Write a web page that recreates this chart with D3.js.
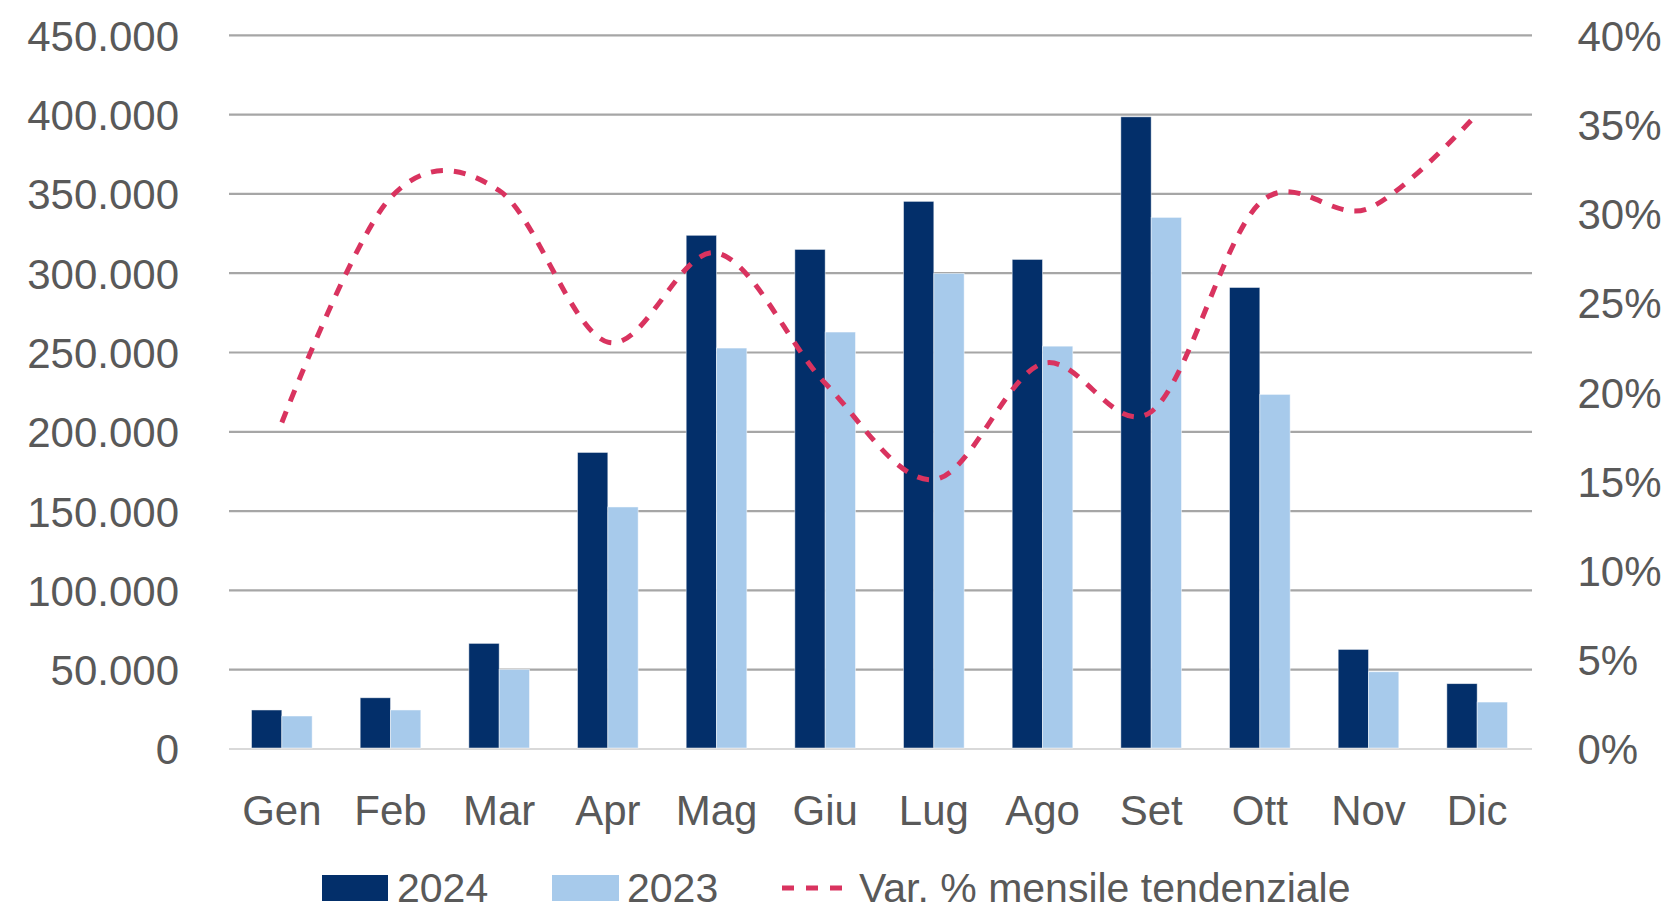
<!DOCTYPE html>
<html>
<head>
<meta charset="utf-8">
<script src="https://cdn.jsdelivr.net/npm/d3@7"></script>
<style>
  body { margin: 0; background: #fff; }
  text { font-family: "Liberation Sans", Arial, sans-serif; fill: #595959; }
</style>
</head>
<body>
<div id="chart-area"></div>
<script>
// data
let months = ["Gen", "Feb", "Mar", "Apr", "Mag", "Giu", "Lug", "Ago", "Set", "Ott", "Nov", "Dic"];
let val2024 = [24600, 32300, 66600, 187000, 323900, 315000, 345300, 308700, 398600, 291000, 62800, 41200];
let val2023 = [20800, 24600, 50200, 152600, 252800, 262900, 299900, 254000, 335200, 223600, 48700, 29600];
let varPct = [18.3, 30.9, 31.3, 22.8, 27.8, 20.5, 15.1, 21.6, 18.9, 30.6, 30.3, 35.6];
let leftTicks = [0, 50000, 100000, 150000, 200000, 250000, 300000, 350000, 400000, 450000];
let rightTicks = [0, 5, 10, 15, 20, 25, 30, 35, 40];
let series = ["2024", "2023"];

let W = 1668, H = 911;
let plot = { left: 227.5, right: 1531.5, top: 35.3, bottom: 749 };

let svg = d3.select("#chart-area").append("svg")
    .attr("width", W)
    .attr("height", H);

// scales
let x = d3.scaleBand()
    .domain(months)
    .range([plot.left, plot.right])
    .paddingInner(0.442)
    .paddingOuter(0.221);

let x1 = d3.scaleBand()
    .domain(series)
    .range([0, x.bandwidth()]);

let y = d3.scaleLinear()
    .domain([0, 450000])
    .range([plot.bottom, plot.top]);

let y2 = d3.scaleLinear()
    .domain([0, 40])
    .range([plot.bottom, plot.top]);

let color = { "2024": "#032F6A", "2023": "#A7CAEB" };
let lineColor = "#D9335F";

// gridlines
svg.append("g")
    .selectAll("line")
    .data(leftTicks)
    .enter().append("line")
    .attr("x1", plot.left + 1.5)
    .attr("x2", plot.right + 0.5)
    .attr("y1", d => y(d))
    .attr("y2", d => y(d))
    .attr("stroke", d => d === 0 ? "#D9D9D9" : "#A6A6A6")
    .attr("stroke-width", 2.2);

// left axis labels
let fmt = d3.formatLocale({ decimal: ",", thousands: ".", grouping: [3], currency: ["", "€"] }).format(",d");
svg.append("g")
    .selectAll("text")
    .data(leftTicks)
    .enter().append("text")
    .attr("x", 179)
    .attr("y", d => y(d) + 15.4)
    .attr("text-anchor", "end")
    .style("font-size", "42px")
    .text(d => fmt(d));

// right axis labels
svg.append("g")
    .selectAll("text")
    .data(rightTicks)
    .enter().append("text")
    .attr("x", 1577.5)
    .attr("y", d => y2(d) + 15.4)
    .attr("text-anchor", "start")
    .style("font-size", "42px")
    .text(d => d + "%");

// month labels
svg.append("g")
    .selectAll("text")
    .data(months)
    .enter().append("text")
    .attr("x", d => x(d) + x.bandwidth() / 2)
    .attr("y", 825)
    .attr("text-anchor", "middle")
    .style("font-size", "42px")
    .text(d => d);

// bars
let rows = months.map((m, i) => ({ month: m, "2024": val2024[i], "2023": val2023[i] }));

let groups = svg.append("g")
    .selectAll("g")
    .data(rows)
    .enter().append("g")
    .attr("transform", d => "translate(" + x(d.month) + ",0)");

groups.selectAll("rect")
    .data(d => series.map(s => ({ key: s, value: d[s] })))
    .enter().append("rect")
    .attr("x", d => x1(d.key))
    .attr("width", x1.bandwidth())
    .attr("y", d => y(d.value))
    .attr("height", d => plot.bottom - 1 - y(d.value))
    .attr("fill", d => color[d.key])
    .attr("stroke", "#ffffff")
    .attr("stroke-opacity", 0.6)
    .attr("stroke-width", 0.8);

// smoothed dashed line
let line = d3.line()
    .curve(d3.curveCardinal.tension(0))
    .x((d, i) => x(months[i]) + x.bandwidth() / 2)
    .y(d => y2(d));

svg.append("path")
    .datum(varPct)
    .attr("fill", "none")
    .attr("stroke", lineColor)
    .attr("stroke-width", 5)
    .attr("stroke-dasharray", "12,11")
    .attr("d", line);

// legend (kept a few px up so text boxes stay inside the page)
let legend = svg.append("g");
legend.append("rect").attr("x", 322).attr("y", 875).attr("width", 66).attr("height", 26).attr("fill", color["2024"]);
legend.append("text").attr("x", 397).attr("y", 902).style("font-size", "41px").text("2024");
legend.append("rect").attr("x", 552).attr("y", 875).attr("width", 67).attr("height", 26).attr("fill", color["2023"]);
legend.append("text").attr("x", 627).attr("y", 902).style("font-size", "41px").text("2023");
legend.append("line")
    .attr("x1", 782).attr("x2", 845)
    .attr("y1", 888).attr("y2", 888)
    .attr("stroke", lineColor)
    .attr("stroke-width", 5)
    .attr("stroke-dasharray", "12,12");
legend.append("text").attr("x", 859).attr("y", 902).style("font-size", "41px").text("Var. % mensile tendenziale");
</script>
</body>
</html>
